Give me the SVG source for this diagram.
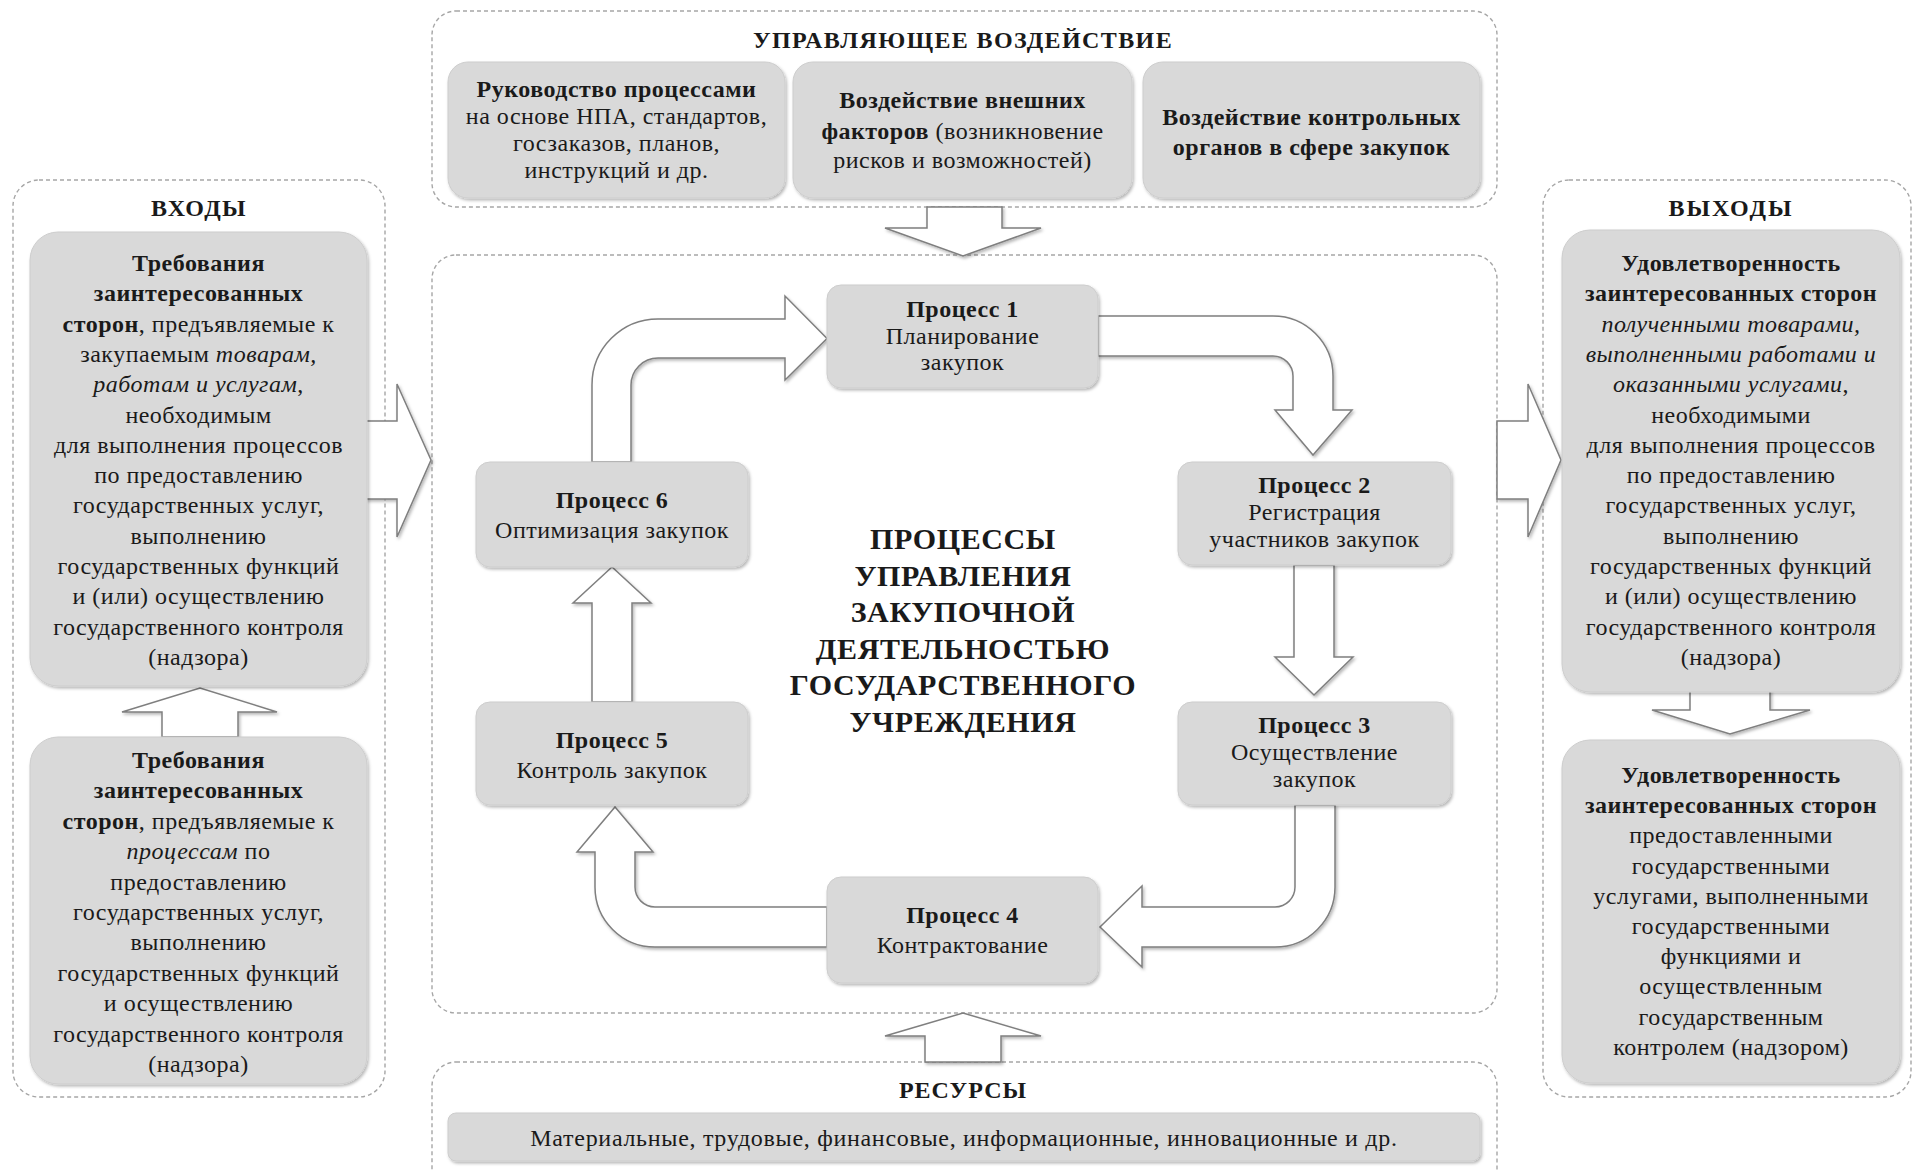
<svg xmlns="http://www.w3.org/2000/svg" width="1914" height="1171" viewBox="0 0 1914 1171">
<defs>
<filter id="sh" x="-10%" y="-10%" width="125%" height="125%">
<feDropShadow dx="1.5" dy="2" stdDeviation="1.8" flood-color="#000" flood-opacity="0.28"/>
</filter>
<style>
.cont{fill:none;stroke:#a6a6a6;stroke-width:1.4;stroke-dasharray:4 3}
.box{fill:#d9d9d9;stroke:#cdcdcd;stroke-width:1;filter:url(#sh)}
.arr{fill:#ffffff;stroke:#7f7f7f;stroke-width:1.5;stroke-linejoin:miter;filter:url(#sh)}
text{font-family:"Liberation Serif","Times New Roman",serif;fill:#1a1a1a;text-anchor:middle}
.t{font-size:24px;letter-spacing:0.5px}
.r{font-size:24px;letter-spacing:0.7px}
.b{font-weight:bold}
.i{font-style:italic}
.h{font-size:24px;font-weight:bold;letter-spacing:1.4px}
.c{font-size:30px;font-weight:bold;letter-spacing:0.6px}
</style>
</defs>
<rect width="1914" height="1171" fill="#ffffff"/>

<g id="containers">
<rect class="cont" x="13" y="180" width="372" height="917" rx="26"/>
<rect class="cont" x="1543" y="180" width="368" height="917" rx="26"/>
<rect class="cont" x="432" y="11" width="1065" height="196" rx="24"/>
<rect class="cont" x="432" y="255" width="1065" height="758" rx="24"/>
<rect class="cont" x="432" y="1062" width="1065" height="140" rx="24"/>
</g>

<g id="connectors">
<path class="arr" d="M366 421 L397 421 L397 384 L431 460 L397 537 L397 499 L366 499 Z"/>
<path class="arr" d="M1497 421 L1528 421 L1528 384 L1561 460 L1528 537 L1528 499 L1497 499 Z"/>
<path class="arr" d="M927 207 L1002 207 L1002 228 L1041 228 L963 256 L885 228 L927 228 Z"/>
<path class="arr" d="M925 1062 L925 1036 L885 1036 L963 1013 L1041 1036 L1001 1036 L1001 1062 Z"/>
<path class="arr" d="M162 737 L162 712 L122 712 L200 688 L277 712 L238 712 L238 737 Z"/>
<path class="arr" d="M1690 690 L1770 690 L1770 710 L1810 710 L1730 734 L1652 710 L1690 710 Z"/>
<path class="arr" d="M592 462 L592 385 A66 66 0 0 1 658 319 L785 319 L785 296 L827 338.5 L785 380 L785 358 L658 358 A27 27 0 0 0 631 385 L631 462 Z"/>
<path class="arr" d="M1098 316 L1273 316 A60 60 0 0 1 1333 376 L1333 410 L1352 410 L1313 455 L1275 410 L1293 410 L1293 376 A20 20 0 0 0 1273 356 L1098 356 Z"/>
<path class="arr" d="M1294 565 L1294 657 L1275 657 L1314 695 L1353 657 L1334 657 L1334 565 Z"/>
<path class="arr" d="M1335 805 L1335 887 A60 60 0 0 1 1275 947 L1142 947 L1142 967 L1100 927 L1142 886 L1142 907 L1275 907 A20 20 0 0 0 1295 887 L1295 805 Z"/>
<path class="arr" d="M827 947 L655 947 A60 60 0 0 1 595 887 L595 852 L577 852 L615 807 L653 852 L635 852 L635 887 A20 20 0 0 0 655 907 L827 907 Z"/>
<path class="arr" d="M592 702 L592 603 L573 603 L612 567 L651 603 L632 603 L632 702 Z"/>
</g>

<g id="titles">
<text class="h" x="199" y="216">ВХОДЫ</text>
<text class="h" x="1731" y="216" style="letter-spacing:2px">ВЫХОДЫ</text>
<text class="h" x="963" y="48">УПРАВЛЯЮЩЕЕ ВОЗДЕЙСТВИЕ</text>
<text class="h" x="963" y="1098" style="letter-spacing:1px">РЕСУРСЫ</text>
</g>

<g id="in1">
<rect class="box" x="30" y="232" width="337" height="454" rx="28"/>
<text class="t" x="198.5" y="271"><tspan class="b">Требования</tspan></text>
<text class="t" x="198.5" y="301.3"><tspan class="b">заинтересованных</tspan></text>
<text class="t" x="198.5" y="331.6"><tspan class="b">сторон</tspan>, предъявляемые к</text>
<text class="t" x="198.5" y="361.9">закупаемым <tspan class="i">товарам,</tspan></text>
<text class="t" x="198.5" y="392.2"><tspan class="i">работам и услугам</tspan>,</text>
<text class="t" x="198.5" y="422.5">необходимым</text>
<text class="t" x="198.5" y="452.8">для выполнения процессов</text>
<text class="t" x="198.5" y="483.1">по предоставлению</text>
<text class="t" x="198.5" y="513.4">государственных услуг,</text>
<text class="t" x="198.5" y="543.7">выполнению</text>
<text class="t" x="198.5" y="574">государственных функций</text>
<text class="t" x="198.5" y="604.3">и (или) осуществлению</text>
<text class="t" x="198.5" y="634.6">государственного контроля</text>
<text class="t" x="198.5" y="664.9">(надзора)</text>
</g>

<g id="in2">
<rect class="box" x="30" y="737" width="337" height="347" rx="28"/>
<text class="t" x="198.5" y="768"><tspan class="b">Требования</tspan></text>
<text class="t" x="198.5" y="798.4"><tspan class="b">заинтересованных</tspan></text>
<text class="t" x="198.5" y="828.8"><tspan class="b">сторон</tspan>, предъявляемые к</text>
<text class="t" x="198.5" y="859.2"><tspan class="i">процессам</tspan> по</text>
<text class="t" x="198.5" y="889.6">предоставлению</text>
<text class="t" x="198.5" y="920">государственных услуг,</text>
<text class="t" x="198.5" y="950.4">выполнению</text>
<text class="t" x="198.5" y="980.8">государственных функций</text>
<text class="t" x="198.5" y="1011.2">и осуществлению</text>
<text class="t" x="198.5" y="1041.6">государственного контроля</text>
<text class="t" x="198.5" y="1072">(надзора)</text>
</g>

<g id="out1">
<rect class="box" x="1562" y="230" width="338" height="462" rx="28"/>
<text class="t" x="1731" y="271"><tspan class="b">Удовлетворенность</tspan></text>
<text class="t" x="1731" y="301.3"><tspan class="b">заинтересованных сторон</tspan></text>
<text class="t" x="1731" y="331.6"><tspan class="i">полученными товарами,</tspan></text>
<text class="t" x="1731" y="361.9"><tspan class="i">выполненными работами и</tspan></text>
<text class="t" x="1731" y="392.2"><tspan class="i">оказанными услугами</tspan>,</text>
<text class="t" x="1731" y="422.5">необходимыми</text>
<text class="t" x="1731" y="452.8">для выполнения процессов</text>
<text class="t" x="1731" y="483.1">по предоставлению</text>
<text class="t" x="1731" y="513.4">государственных услуг,</text>
<text class="t" x="1731" y="543.7">выполнению</text>
<text class="t" x="1731" y="574">государственных функций</text>
<text class="t" x="1731" y="604.3">и (или) осуществлению</text>
<text class="t" x="1731" y="634.6">государственного контроля</text>
<text class="t" x="1731" y="664.9">(надзора)</text>
</g>

<g id="out2">
<rect class="box" x="1562" y="740" width="338" height="343" rx="28"/>
<text class="t" x="1731" y="783"><tspan class="b">Удовлетворенность</tspan></text>
<text class="t" x="1731" y="813.2"><tspan class="b">заинтересованных сторон</tspan></text>
<text class="t" x="1731" y="843.4">предоставленными</text>
<text class="t" x="1731" y="873.6">государственными</text>
<text class="t" x="1731" y="903.8">услугами, выполненными</text>
<text class="t" x="1731" y="934">государственными</text>
<text class="t" x="1731" y="964.2">функциями и</text>
<text class="t" x="1731" y="994.4">осуществленным</text>
<text class="t" x="1731" y="1024.6">государственным</text>
<text class="t" x="1731" y="1054.8">контролем (надзором)</text>
</g>

<g id="ctl1">
<rect class="box" x="448" y="62" width="337" height="136" rx="20"/>
<text class="t" x="616.5" y="97"><tspan class="b">Руководство процессами</tspan></text>
<text class="t" x="616.5" y="124">на основе НПА, стандартов,</text>
<text class="t" x="616.5" y="151">госзаказов, планов,</text>
<text class="t" x="616.5" y="178">инструкций и др.</text>
</g>

<g id="ctl2">
<rect class="box" x="793" y="62" width="339" height="136" rx="20"/>
<text class="t" x="962.5" y="108"><tspan class="b">Воздействие внешних</tspan></text>
<text class="t" x="962.5" y="139"><tspan class="b">факторов</tspan> (возникновение</text>
<text class="t" x="962.5" y="168">рисков и возможностей)</text>
</g>

<g id="ctl3">
<rect class="box" x="1143" y="62" width="337" height="136" rx="20"/>
<text class="t" x="1311.5" y="125"><tspan class="b">Воздействие контрольных</tspan></text>
<text class="t" x="1311.5" y="155"><tspan class="b">органов в сфере закупок</tspan></text>
</g>

<g id="p1">
<rect class="box" x="827" y="285" width="271" height="103" rx="14"/>
<text class="t" x="962.5" y="317"><tspan class="b">Процесс 1</tspan></text>
<text class="t" x="962.5" y="344">Планирование</text>
<text class="t" x="962.5" y="370">закупок</text>
</g>

<g id="p2">
<rect class="box" x="1178" y="462" width="273" height="103" rx="14"/>
<text class="t" x="1314.5" y="493"><tspan class="b">Процесс 2</tspan></text>
<text class="t" x="1314.5" y="520">Регистрация</text>
<text class="t" x="1314.5" y="547">участников закупок</text>
</g>

<g id="p3">
<rect class="box" x="1178" y="702" width="273" height="103" rx="14"/>
<text class="t" x="1314.5" y="733"><tspan class="b">Процесс 3</tspan></text>
<text class="t" x="1314.5" y="760">Осуществление</text>
<text class="t" x="1314.5" y="787">закупок</text>
</g>

<g id="p4">
<rect class="box" x="827" y="877" width="271" height="106" rx="14"/>
<text class="t" x="962.5" y="923"><tspan class="b">Процесс 4</tspan></text>
<text class="t" x="962.5" y="953">Контрактование</text>
</g>

<g id="p5">
<rect class="box" x="476" y="702" width="272" height="103" rx="14"/>
<text class="t" x="612" y="748"><tspan class="b">Процесс 5</tspan></text>
<text class="t" x="612" y="778">Контроль закупок</text>
</g>

<g id="p6">
<rect class="box" x="476" y="462" width="272" height="105" rx="14"/>
<text class="t" x="612" y="508"><tspan class="b">Процесс 6</tspan></text>
<text class="t" x="612" y="538">Оптимизация закупок</text>
</g>

<g id="center">
<text class="c" x="963" y="549">ПРОЦЕССЫ</text>
<text class="c" x="963" y="585.6">УПРАВЛЕНИЯ</text>
<text class="c" x="963" y="622.2">ЗАКУПОЧНОЙ</text>
<text class="c" x="963" y="658.8">ДЕЯТЕЛЬНОСТЬЮ</text>
<text class="c" x="963" y="695.4">ГОСУДАРСТВЕННОГО</text>
<text class="c" x="963" y="732">УЧРЕЖДЕНИЯ</text>
</g>

<g id="res">
<rect class="box" x="448" y="1113" width="1032" height="48" rx="8"/>
<text class="r" x="964" y="1146">Материальные, трудовые, финансовые, информационные, инновационные и др.</text>
</g>
</svg>
